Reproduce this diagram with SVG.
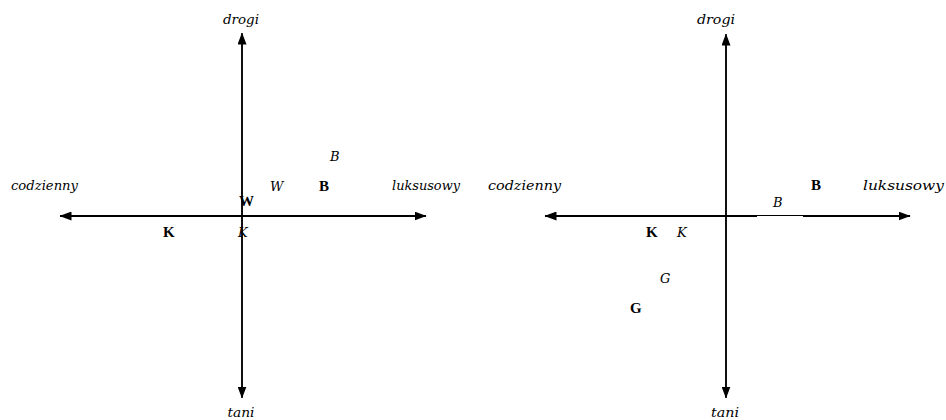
<svg xmlns="http://www.w3.org/2000/svg" width="946" height="420" viewBox="0 0 946 420">
  <style>
    text { font-family: "Liberation Serif", "Times New Roman", serif; fill: #000; }
    .lab { font-family: "DejaVu Serif", "Liberation Serif", serif; font-size: 12px; font-style: italic; }
    .bp { font-size: 15px; font-weight: bold; }
    .ip { font-family: "DejaVu Serif", "Liberation Serif", serif; font-size: 13px; font-style: italic; }
    .ax { stroke: #000; fill: none; }
  </style>
  <defs>
    <marker id="ah" viewBox="0 0 12 9" markerUnits="userSpaceOnUse" markerWidth="12" markerHeight="9" refX="11.5" refY="4.5" orient="auto-start-reverse">
      <path d="M0,0 L12,4.5 L0,9 z" fill="#000"/>
    </marker>
  </defs>
  <rect width="946" height="420" fill="#fff"/>

  <g id="connectors">
    <line class="ax" x1="242" y1="397" x2="242" y2="33" stroke-width="1.5" marker-end="url(#ah)"/>
    <line class="ax" x1="242" y1="37" x2="242" y2="398" stroke-width="1.5" marker-end="url(#ah)"/>
    <line class="ax" x1="60" y1="216" x2="426" y2="216" stroke-width="2" marker-start="url(#ah)" marker-end="url(#ah)"/>

    <line class="ax" x1="726" y1="397" x2="726" y2="34" stroke-width="1.5" marker-end="url(#ah)"/>
    <line class="ax" x1="726" y1="38" x2="726" y2="398" stroke-width="1.5" marker-end="url(#ah)"/>
    <line class="ax" x1="757" y1="216" x2="545" y2="216" stroke-width="2" marker-end="url(#ah)"/>
    <line class="ax" x1="757" y1="215.5" x2="803" y2="215.5" stroke-width="1"/>
    <line class="ax" x1="803" y1="216" x2="910" y2="216" stroke-width="2" marker-end="url(#ah)"/>
  </g>

  <!-- left diagram -->
  <g id="l-drogi"><text class="lab" x="241" y="24" text-anchor="middle" textLength="36" lengthAdjust="spacingAndGlyphs">drogi</text></g>
  <g id="l-tani"><text class="lab" x="241" y="417" text-anchor="middle" textLength="27" lengthAdjust="spacingAndGlyphs">tani</text></g>
  <g id="l-codzienny"><text class="lab" x="11" y="190" textLength="67" lengthAdjust="spacingAndGlyphs">codzienny</text></g>
  <g id="l-luksusowy"><text class="lab" x="392" y="190" textLength="68" lengthAdjust="spacingAndGlyphs">luksusowy</text></g>
  <g id="l-B-italic"><text class="ip" x="330" y="161">B</text></g>
  <g id="l-W-italic"><text class="ip" x="270" y="191">W</text></g>
  <g id="l-B-bold"><text class="bp" x="319" y="191">B</text></g>
  <g id="l-W-bold"><text class="bp" x="239" y="206">W</text></g>
  <g id="l-K-bold"><text class="bp" x="163" y="237">K</text></g>
  <g id="l-K-italic"><text class="ip" x="238" y="237">K</text></g>

  <!-- right diagram -->
  <g id="r-drogi"><text class="lab" x="716" y="24" text-anchor="middle" textLength="38" lengthAdjust="spacingAndGlyphs">drogi</text></g>
  <g id="r-tani"><text class="lab" x="725" y="417" text-anchor="middle" textLength="28" lengthAdjust="spacingAndGlyphs">tani</text></g>
  <g id="r-codzienny"><text class="lab" x="488" y="190" textLength="73" lengthAdjust="spacingAndGlyphs">codzienny</text></g>
  <g id="r-luksusowy"><text class="lab" x="863" y="190" textLength="81" lengthAdjust="spacingAndGlyphs">luksusowy</text></g>
  <g id="r-B-bold"><text class="bp" x="811" y="190">B</text></g>
  <g id="r-B-italic"><text class="ip" x="773" y="207">B</text></g>
  <g id="r-K-bold"><text class="bp" x="646" y="237">K</text></g>
  <g id="r-K-italic"><text class="ip" x="677" y="237">K</text></g>
  <g id="r-G-italic"><text class="ip" x="660" y="283">G</text></g>
  <g id="r-G-bold"><text class="bp" x="630" y="313">G</text></g>
</svg>
